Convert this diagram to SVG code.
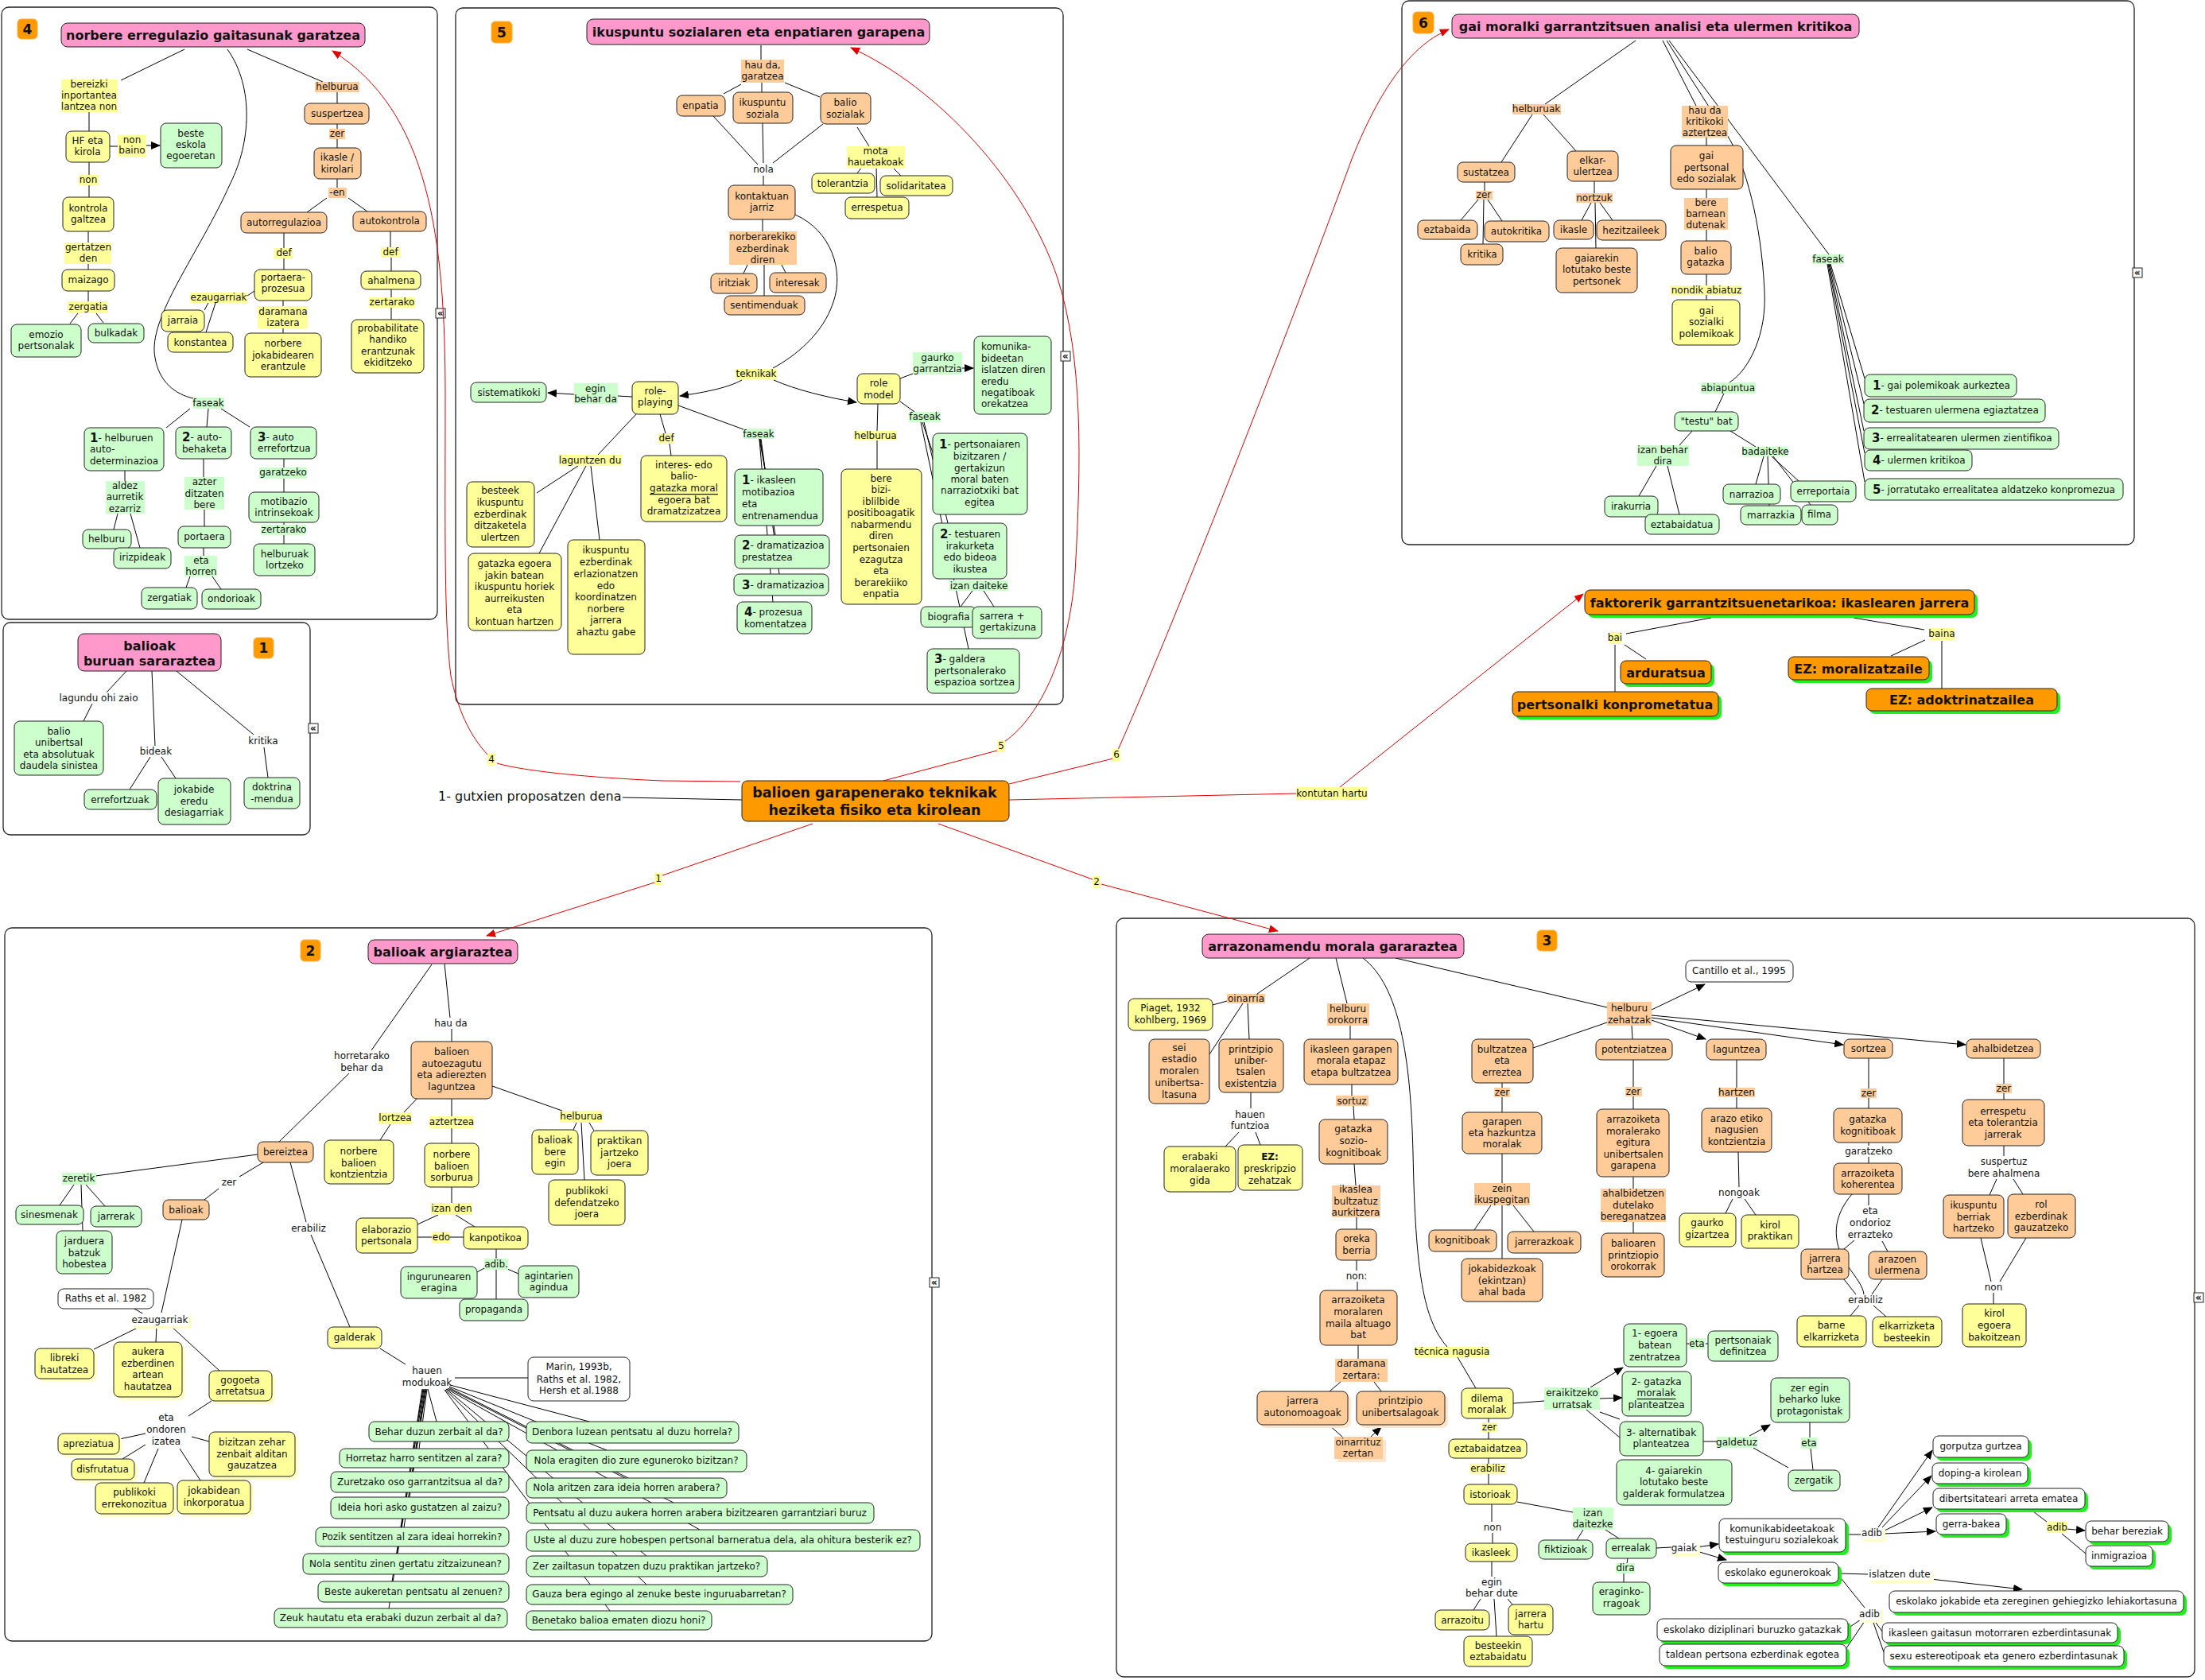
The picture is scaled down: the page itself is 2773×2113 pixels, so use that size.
<svg xmlns="http://www.w3.org/2000/svg" width="2773" height="2113" viewBox="0 0 2773 2113">
<style>
text, tspan { font-family: "DejaVu Sans", Verdana, sans-serif; font-size: 12px; fill: #111; text-anchor: middle; dominant-baseline: central; }
text.l, text.l tspan { text-anchor: start; }
.t, .t tspan { font-size: 16px; font-weight: bold; }
.cb, .cb tspan { font-size: 17.5px; font-weight: bold; }
.fb, .fb tspan { font-size: 16px; font-weight: bold; }
.nb { font-size: 15px; font-weight: bold; }
.bd { font-size: 17px; font-weight: bold; }
rect.n { stroke: #222; stroke-width: 1; }
.y { fill: #ffff99; } .o { fill: #ffcc99; } .g { fill: #ccffcc; } .p { fill: #ff99cc; } .w { fill: #ffffff; } .c { fill: #ff9900; }
.sh { fill: #22ee22; } .shy { fill: #ffffc8; } .sho { fill: #ffe6cc; }
.frame { fill: none; stroke: #222; stroke-width: 1.3; }
.badge { fill: #ff9900; stroke: #f5b040; stroke-width: 1; }
.ic { fill: #fff; stroke: #222; stroke-width: 1; }
.icg { font-size: 12px; font-weight: bold; }
#connectors path { fill: none; stroke: #000; stroke-width: 1; }
#connectors path.r { stroke: #dd0000; }
.big { font-size: 16px; }
</style>
<defs>
<marker id="a" viewBox="0 0 12 10" refX="11" refY="5" markerWidth="12" markerHeight="10" markerUnits="userSpaceOnUse" orient="auto"><path d="M0,0L12,5L0,10z" fill="#000"/></marker>
<marker id="ar" viewBox="0 0 12 10" refX="11" refY="5" markerWidth="12" markerHeight="10" markerUnits="userSpaceOnUse" orient="auto"><path d="M0,0L12,5L0,10z" fill="#e00000"/></marker>
</defs>
<rect x="0" y="0" width="2773" height="2113" fill="#fff"/>

<g id="frames">
<rect class="frame" x="2" y="9" width="548" height="770" rx="9"/>
<rect class="frame" x="573" y="10" width="764" height="876" rx="9"/>
<rect class="frame" x="1763" y="1" width="921" height="684" rx="9"/>
<rect class="frame" x="4" y="783" width="386" height="267" rx="9"/>
<rect class="frame" x="6" y="1167" width="1166" height="897" rx="9"/>
<rect class="frame" x="1404" y="1155" width="1356" height="954" rx="9"/>
<rect class="ic" x="548" y="388" width="12" height="12"/><text class="icg" x="554" y="394">«</text>
<rect class="ic" x="1334" y="442" width="12" height="12"/><text class="icg" x="1340" y="448">«</text>
<rect class="ic" x="2682" y="337" width="12" height="12"/><text class="icg" x="2688" y="343">«</text>
<rect class="ic" x="388" y="910" width="12" height="12"/><text class="icg" x="394" y="916">«</text>
<rect class="ic" x="1169" y="1607" width="12" height="12"/><text class="icg" x="1175" y="1613">«</text>
<rect class="ic" x="2759" y="1626" width="12" height="12"/><text class="icg" x="2765" y="1632">«</text>
<rect class="badge" x="22" y="24" width="25" height="25" rx="5"/><text class="bd" x="34.5" y="36.5">4</text>
<rect class="badge" x="618" y="27" width="26" height="27" rx="5"/><text class="bd" x="631" y="40.5">5</text>
<rect class="badge" x="1777" y="15" width="26" height="27" rx="5"/><text class="bd" x="1790" y="28.5">6</text>
<rect class="badge" x="319" y="802" width="25" height="26" rx="5"/><text class="bd" x="331.5" y="815">1</text>
<rect class="badge" x="378" y="1182" width="25" height="27" rx="5"/><text class="bd" x="390.5" y="1195.5">2</text>
<rect class="badge" x="1933" y="1170" width="25" height="26" rx="5"/><text class="bd" x="1945.5" y="1183">3</text>
</g>

<g id="connectors">
<path class="r" d="M931,983 L833,982 C740,978 660,970 625,960"/>
<path class="r" d="M614,950 C590,925 575,890 567,850 C558,780 560,650 560,500 C560,300 540,140 418,64" marker-end="url(#ar)"/>
<path class="r" d="M1111,982 L1254,944"/>
<path class="r" d="M1263,933 C1310,900 1345,820 1352,720 C1360,580 1362,450 1330,350 C1290,230 1180,110 1070,60" marker-end="url(#ar)"/>
<path class="r" d="M1269,986 L1400,954"/>
<path class="r" d="M1406,943 C1470,800 1620,420 1700,200 C1740,100 1780,55 1822,37" marker-end="url(#ar)"/>
<path class="r" d="M1269,1006 L1631,998"/>
<path class="r" d="M1685,990 L1991,747" marker-end="url(#ar)"/>
<path class="r" d="M1022,1036 L833,1101"/>
<path class="r" d="M823,1110 L612,1177" marker-end="url(#ar)"/>
<path class="r" d="M1180,1036 L1374,1106"/>
<path class="r" d="M1385,1112 L1607,1171" marker-end="url(#ar)"/>
<path d="M783,1003 L933,1006"/>
<path d="M2152,777 L2045,797 M2043,811 L2070,829 M2031,811 L2031,870 M2331,777 L2420,792 M2421,805 L2378,825 M2442,806 L2442,866"/>
<path d="M232,62 L152,101 M112,140 V165 M138,184 H148"/>
<path d="M184,183 L201,183" marker-end="url(#a)"/>
<path d="M112,204 V220 M112,233 V248 M111,291 V305 M111,331 V339 M111,366 V379 M98,394 L88,407 M121,394 L130,406"/>
<path d="M286,62 C320,110 315,180 290,230 C250,320 185,400 195,450 C200,480 220,496 243,501"/>
<path d="M311,62 L406,103 M424,116 V130 M424,156 V162 M424,175 V186 M424,225 V236 M411,249 L386,267 M438,249 L462,266"/>
<path d="M357,293 V312 M357,325 V339 M320,366 L311,372 M262,381 L257,390 M271,381 L259,418 M356,378 V385 M356,413 V419"/>
<path d="M491,291 V311 M492,323 V341 M492,364 V374 M492,387 V402"/>
<path d="M239,514 L209,538 M262,514 L260,537 M278,514 L314,537"/>
<path d="M157,592 V605 M148,646 L143,666 M164,646 L176,689 M256,577 V600 M257,641 V662 M256,689 V699 M239,725 L234,739 M267,725 L278,741"/>
<path d="M357,577 V588 M357,602 V619 M357,657 V660 M357,673 V684"/>
<path d="M957,57 V75 M932,106 L910,118 M958,104 V116 M987,104 L1031,122"/>
<path d="M1078,160 L1093,184 M1084,210 L1078,218 M1102,210 L1103,248 M1122,210 L1133,221"/>
<path d="M897,146 L953,207 M959,155 L960,205 M1035,156 L972,205 M960,221 V233 M959,276 V291"/>
<path d="M940,333 L935,344 M961,333 V372 M983,333 L988,343"/>
<path d="M1000,270 C1045,290 1062,340 1048,380 C1035,420 1000,448 972,463"/>
<path d="M933,478 C917,487 890,493 855,498" marker-end="url(#a)"/>
<path d="M973,478 C1000,490 1040,500 1077,506" marker-end="url(#a)"/>
<path d="M795,499 L777,498"/>
<path d="M722,496 L689,494" marker-end="url(#a)"/>
<path d="M830,521 L837,545 M842,558 L844,573 M800,521 L752,572 M727,586 L675,620 M737,586 L678,696 M743,586 L754,679"/>
<path d="M853,510 L935,540"/>
<path d="M955,552 L962,590 M956,552 L975,673 M957,552 L980,722 M955,552 L972,757"/>
<path d="M1132,476 L1148,470"/>
<path d="M1210,463 L1224,463" marker-end="url(#a)"/>
<path d="M1104,508 L1103,542 M1103,554 V590 M1132,505 L1150,518"/>
<path d="M1160,531 L1175,575 M1162,531 L1192,658 M1158,531 L1218,816 M1223,743 L1208,763 M1237,743 L1250,763"/>
<path d="M2057,51 L1943,131 M1927,144 L1888,204 M1941,144 L1982,190 M1867,229 V240 M1859,251 L1837,277 M1866,251 L1865,307 M1871,251 L1889,278"/>
<path d="M2005,228 V243 M2001,255 L1989,277 M2006,255 L2007,312 M2012,255 L2028,277"/>
<path d="M2091,51 L2133,133 M2146,173 V183 M2146,238 V249 M2146,289 V303 M2146,345 V359 M2146,371 V377"/>
<path d="M2096,51 L2172,170 C2195,205 2215,280 2219,366 C2222,420 2200,465 2175,481"/>
<path d="M2099,51 L2300,320"/>
<path d="M2168,495 L2157,518 M2128,542 L2112,560 M2083,586 L2061,624 M2097,586 L2112,647 M2176,542 L2208,562"/>
<path d="M2218,574 L2208,609 M2223,574 L2225,636 M2228,574 L2262,605 M2230,574 L2277,635"/>
<path d="M2302,332 L2345,476 M2301,332 L2344,508 M2300,332 L2344,542 M2299,332 L2345,570 M2298,332 L2345,606"/>
<path d="M159,844 L134,871 M116,885 L105,907 M191,844 L195,938 M189,952 L163,993 M203,952 L221,979 M222,844 L319,924 M332,940 L337,978"/>
<path d="M559,1212 L566,1280 M568,1294 V1310 M543,1213 L467,1321 M439,1350 L351,1436"/>
<path d="M524,1382 L508,1399 M491,1414 L478,1434 M568,1382 V1404 M568,1419 V1438 M619,1366 L707,1397"/>
<path d="M725,1412 L721,1421 M741,1412 L747,1422 M731,1412 L735,1484"/>
<path d="M568,1493 V1513 M551,1528 L525,1540 M573,1528 L597,1543 M525,1556 H543 M566,1556 H583"/>
<path d="M624,1571 V1583 M609,1595 L600,1600 M638,1596 L652,1602 M624,1597 V1634"/>
<path d="M324,1452 L120,1479 M93,1490 L75,1516 M102,1490 L104,1548 M108,1490 L132,1517"/>
<path d="M331,1462 L301,1480 M275,1495 L257,1509 M365,1462 L385,1537 M391,1553 L440,1669 M229,1534 L203,1651"/>
<path d="M169,1646 L181,1653 M179,1667 L118,1697 M197,1667 L196,1688 M214,1667 L276,1724"/>
<path d="M266,1762 L237,1781 M183,1803 L150,1810 M183,1817 L154,1835 M199,1822 L181,1865 M226,1822 L252,1862 M241,1807 L263,1813"/>
<path d="M478,1696 L510,1716 M572,1733 L664,1733"/>
<path d="M538,1747 L549,1788 M537,1747 L527,1822 M536,1747 L519,1851 M535,1747 L515,1883 M534,1747 L508,1921 M533,1747 L500,1954 M532,1747 L493,1989 M531,1747 L489,2023"/>
<path d="M566,1742 L741,1788 M565,1744 L763,1824 M564,1745 L790,1859 M563,1746 L847,1890 M562,1747 L880,1924 M561,1747 L813,1957 M560,1748 L813,1993 M559,1748 L767,2026"/>
<path d="M1647,1205 L1581,1250 M1543,1259 L1525,1264 M1563,1262 L1521,1326 M1569,1262 L1571,1307 M1573,1374 V1394 M1558,1424 L1541,1442 M1579,1424 L1585,1440"/>
<path d="M1680,1205 L1694,1262 M1698,1290 V1307 M1700,1364 V1378 M1702,1391 L1703,1408 M1703,1464 L1705,1491 M1706,1531 V1546 M1706,1585 V1598 M1707,1612 V1623 M1708,1692 V1709"/>
<path d="M1686,1738 L1672,1750 M1728,1738 L1737,1750 M1671,1792 L1688,1807"/>
<path d="M1724,1807 L1737,1795" marker-end="url(#a)"/>
<path d="M1714,1205 C1760,1240 1774,1330 1777,1450 C1780,1600 1790,1660 1820,1694"/>
<path d="M1833,1707 L1856,1746 M1872,1784 V1789 M1872,1801 V1810 M1872,1834 V1841 M1872,1854 V1867 M1876,1892 V1914 M1877,1928 V1941 M1876,1964 V1983"/>
<path d="M1862,2011 L1853,2025 M1879,2011 L1882,2058 M1896,2011 L1902,2018"/>
<path d="M1908,1889 L1978,1902 M1991,1924 L1983,1937 M2019,1924 L2036,1935 M2047,1960 L2046,1966 M2042,1979 V1990"/>
<path d="M2083,1947 L2102,1946"/>
<path d="M2134,1946 L2161,1942" marker-end="url(#a)"/>
<path d="M2134,1951 L2171,1962" marker-end="url(#a)"/>
<path d="M2321,1930 L2340,1930"/>
<path d="M2362,1921 L2430,1824" marker-end="url(#a)"/>
<path d="M2366,1922 L2429,1856" marker-end="url(#a)"/>
<path d="M2370,1925 L2430,1896" marker-end="url(#a)"/>
<path d="M2370,1929 L2434,1926" marker-end="url(#a)"/>
<path d="M2553,1898 L2574,1914"/>
<path d="M2598,1923 L2622,1925" marker-end="url(#a)"/>
<path d="M2593,1929 L2623,1954"/>
<path d="M2312,1979 L2349,1980"/>
<path d="M2428,1986 L2543,1999" marker-end="url(#a)"/>
<path d="M2316,1986 L2345,2022 M2340,2037 L2324,2048 M2345,2039 L2322,2073 M2357,2038 L2367,2052 M2355,2038 L2369,2078"/>
<path d="M1755,1205 L2021,1267"/>
<path d="M2077,1270 L2144,1238" marker-end="url(#a)"/>
<path d="M2077,1283 L2145,1307" marker-end="url(#a)"/>
<path d="M2077,1280 L2318,1314" marker-end="url(#a)"/>
<path d="M2077,1277 L2472,1314" marker-end="url(#a)"/>
<path d="M2021,1286 L1928,1318 M2052,1290 L2053,1307"/>
<path d="M1889,1362 V1368 M1889,1380 V1399 M1889,1451 V1488 M1875,1516 L1854,1547 M1889,1516 V1583 M1903,1516 L1929,1549"/>
<path d="M2054,1333 V1367 M2054,1379 V1395 M2054,1480 V1495 M2054,1537 V1551"/>
<path d="M2184,1333 V1368 M2184,1380 V1394 M2186,1449 L2187,1493 M2179,1508 L2170,1526 M2194,1508 L2208,1528"/>
<path d="M2350,1331 V1369 M2350,1381 V1394 M2350,1437 V1441 M2350,1455 V1463 M2350,1502 V1516 M2332,1560 L2319,1571 M2367,1561 L2374,1574"/>
<path d="M2329,1502 C2305,1530 2303,1560 2322,1590 C2335,1608 2343,1618 2344,1628"/>
<path d="M2319,1609 L2334,1628 M2367,1609 L2354,1628 M2338,1642 L2327,1655 M2356,1642 L2372,1656"/>
<path d="M2520,1331 V1363 M2520,1375 V1383 M2520,1441 V1454 M2511,1483 L2502,1503 M2532,1483 L2544,1502 M2491,1557 L2504,1612 M2548,1557 L2515,1612 M2507,1626 V1640"/>
<path d="M1903,1765 L1942,1762"/>
<path d="M2000,1745 L2041,1720" marker-end="url(#a)"/>
<path d="M2012,1759 L2040,1758" marker-end="url(#a)"/>
<path d="M2012,1776 L2037,1785 M1995,1773 L2037,1808 M2121,1690 H2124 M2145,1690 H2148 M2142,1813 H2159"/>
<path d="M2200,1806 L2226,1792" marker-end="url(#a)"/>
<path d="M2205,1821 L2249,1846 M2276,1789 V1808 M2277,1822 L2280,1849"/>
</g>

<g id="center">
<rect class="n c" x="933" y="982" width="336" height="51" rx="7"/>
<text class="cb" x="1100"><tspan x="1100" y="997">balioen garapenerako teknikak</tspan><tspan x="1100" y="1019">heziketa fisiko eta kirolean</tspan></text>
</g>
<g id="l-gutxien"><text class="l big" x="551" y="1001">1- gutxien proposatzen dena</text></g>
<g id="l-r1"><rect class="y" x="823" y="1098" width="10" height="15"/><text x="828" y="1105">1</text></g>
<g id="l-r2"><rect class="y" x="1374" y="1102" width="10" height="15"/><text x="1379" y="1109">2</text></g>
<g id="l-r4"><rect class="y" x="613" y="948" width="10" height="15"/><text x="618" y="955">4</text></g>
<g id="l-r5"><rect class="y" x="1254" y="931" width="10" height="15"/><text x="1259" y="938">5</text></g>
<g id="l-r6"><rect class="y" x="1399" y="942" width="10" height="15"/><text x="1404" y="949">6</text></g>
<g id="l-kontutan"><rect class="y" x="1630" y="990" width="90" height="16"/><text x="1675" y="998">kontutan hartu</text></g>

<g id="n-faktorerik"><rect class="sh" x="1997" y="746" width="490" height="31" rx="7"/><rect class="n c" x="1993" y="742" width="490" height="31" rx="7"/><text class="fb" x="2238" y="758">faktorerik garrantzitsuenetarikoa: ikaslearen jarrera</text></g>
<g id="l-bai"><rect class="y" x="2024" y="795" width="15" height="15"/><text x="2031" y="802">bai</text></g>
<g id="l-baina"><rect class="y" x="2427" y="790" width="31" height="15"/><text x="2442" y="797">baina</text></g>
<g id="n-arduratsua"><rect class="sh" x="2042" y="835" width="114" height="29" rx="7"/><rect class="n c" x="2038" y="831" width="114" height="29" rx="7"/><text class="fb" x="2095" y="846">arduratsua</text></g>
<g id="n-pertsonalki"><rect class="sh" x="1906" y="874" width="259" height="31" rx="7"/><rect class="n c" x="1902" y="870" width="259" height="31" rx="7"/><text class="fb" x="2031" y="886">pertsonalki konprometatua</text></g>
<g id="n-moralizatzaile"><rect class="sh" x="2253" y="830" width="177" height="29" rx="7"/><rect class="n c" x="2249" y="826" width="177" height="29" rx="7"/><text class="fb" x="2337" y="841">EZ: moralizatzaile</text></g>
<g id="n-adoktrinatzailea"><rect class="sh" x="2351" y="870" width="240" height="28" rx="7"/><rect class="n c" x="2347" y="866" width="240" height="28" rx="7"/><text class="fb" x="2467" y="880">EZ: adoktrinatzailea</text></g>

<g id="n4-title"><rect class="n p" x="77" y="29" width="382" height="30" rx="8"/><text class="t" x="268" y="44">norbere erregulazio gaitasunak garatzea</text></g>
<g id="l4-bereizki"><rect class="y" x="77" y="100" width="71" height="41"/><text><tspan x="112" y="106">bereizki</tspan><tspan x="112" y="120">inportantea</tspan><tspan x="112" y="134">lantzea non</tspan></text></g>
<g id="n4-hf"><rect class="n y" x="83" y="165" width="55" height="39" rx="7"/><text><tspan x="110" y="177">HF eta</tspan><tspan x="110" y="191">kirola</tspan></text></g>
<g id="l4-nonbaino"><rect class="y" x="148" y="170" width="36" height="27"/><text><tspan x="166" y="176">non</tspan><tspan x="166" y="189">baino</tspan></text></g>
<g id="n4-beste"><rect class="n g" x="202" y="155" width="77" height="56" rx="7"/><text><tspan x="240" y="168">beste</tspan><tspan x="240" y="182">eskola</tspan><tspan x="240" y="196">egoeretan</tspan></text></g>
<g id="l4-non"><rect class="y" x="99" y="220" width="25" height="13"/><text x="111" y="226">non</text></g>
<g id="n4-kontrola"><rect class="n y" x="79" y="248" width="64" height="43" rx="7"/><text><tspan x="111" y="262">kontrola</tspan><tspan x="111" y="276">galtzea</tspan></text></g>
<g id="l4-gertatzen"><rect class="y" x="81" y="305" width="59" height="27"/><text><tspan x="111" y="311">gertatzen</tspan><tspan x="111" y="325">den</tspan></text></g>
<g id="n4-maizago"><rect class="n y" x="78" y="339" width="66" height="27" rx="7"/><text x="111" y="352">maizago</text></g>
<g id="l4-zergatia"><rect class="y" x="85" y="379" width="51" height="15"/><text x="111" y="386">zergatia</text></g>
<g id="n4-emozio"><rect class="n g" x="14" y="408" width="88" height="41" rx="7"/><text><tspan x="58" y="421">emozio</tspan><tspan x="58" y="435">pertsonalak</tspan></text></g>
<g id="n4-bulkadak"><rect class="n g" x="111" y="407" width="70" height="24" rx="7"/><text x="146" y="419">bulkadak</text></g>
<g id="l4-faseak"><rect class="g" x="243" y="500" width="39" height="14"/><text x="262" y="507">faseak</text></g>
<g id="l4-helburua"><rect class="o" x="396" y="103" width="56" height="13"/><text x="424" y="109">helburua</text></g>
<g id="n4-suspertzea"><rect class="n o" x="383" y="130" width="81" height="26" rx="7"/><text x="424" y="143">suspertzea</text></g>
<g id="l4-zer"><rect class="o" x="414" y="162" width="20" height="13"/><text x="424" y="168">zer</text></g>
<g id="n4-ikasle"><rect class="n o" x="395" y="186" width="59" height="39" rx="7"/><text><tspan x="424" y="198">ikasle /</tspan><tspan x="424" y="213">kirolari</tspan></text></g>
<g id="l4-en"><rect class="o" x="413" y="236" width="23" height="13"/><text x="424" y="242">-en</text></g>
<g id="n4-autorreg"><rect class="n o" x="303" y="267" width="108" height="26" rx="7"/><text x="357" y="280">autorregulazioa</text></g>
<g id="n4-autokontrola"><rect class="n o" x="444" y="266" width="92" height="25" rx="7"/><text x="490" y="278">autokontrola</text></g>
<g id="l4-def1"><rect class="y" x="345" y="312" width="23" height="13"/><text x="357" y="318">def</text></g>
<g id="n4-portaera"><rect class="n y" x="320" y="339" width="72" height="39" rx="7"/><text><tspan x="356" y="349">portaera-</tspan><tspan x="356" y="363">prozesua</tspan></text></g>
<g id="l4-ezaug"><rect class="y" x="239" y="368" width="72" height="13"/><text x="275" y="374">ezaugarriak</text></g>
<g id="n4-jarraia"><rect class="n y" x="203" y="390" width="54" height="27" rx="7"/><text x="230" y="403">jarraia</text></g>
<g id="n4-konstantea"><rect class="n y" x="211" y="418" width="82" height="25" rx="7"/><text x="252" y="431">konstantea</text></g>
<g id="l4-daramana"><rect class="y" x="324" y="385" width="63" height="28"/><text><tspan x="356" y="392">daramana</tspan><tspan x="356" y="406">izatera</tspan></text></g>
<g id="n4-norbere"><rect class="n y" x="308" y="419" width="96" height="55" rx="7"/><text><tspan x="356" y="432">norbere</tspan><tspan x="356" y="447">jokabidearen</tspan><tspan x="356" y="461">erantzule</tspan></text></g>
<g id="l4-def2"><rect class="y" x="479" y="311" width="25" height="13"/><text x="491" y="317">def</text></g>
<g id="n4-ahalmena"><rect class="n y" x="454" y="341" width="75" height="23" rx="7"/><text x="492" y="353">ahalmena</text></g>
<g id="l4-zertarako"><rect class="y" x="464" y="374" width="58" height="13"/><text x="493" y="380">zertarako</text></g>
<g id="n4-probab"><rect class="n y" x="442" y="402" width="91" height="67" rx="7"/><text><tspan x="488" y="413">probabilitate</tspan><tspan x="488" y="427">handiko</tspan><tspan x="488" y="442">erantzunak</tspan><tspan x="488" y="456">ekiditzeko</tspan></text></g>
<g id="n4-f1"><rect class="n g" x="106" y="538" width="100" height="54" rx="7"/><text class="l"><tspan x="113" y="551"><tspan class="nb">1</tspan>- helburuen</tspan><tspan x="113" y="565">auto-</tspan><tspan x="113" y="580">determinazioa</tspan></text></g>
<g id="n4-f2"><rect class="n g" x="221" y="537" width="70" height="40" rx="7"/><text class="l"><tspan x="229" y="550"><tspan class="nb">2</tspan>- auto-</tspan><tspan x="229" y="565">behaketa</tspan></text></g>
<g id="n4-f3"><rect class="n g" x="315" y="537" width="83" height="40" rx="7"/><text class="l"><tspan x="324" y="550"><tspan class="nb">3</tspan>- auto</tspan><tspan x="324" y="564">errefortzua</tspan></text></g>
<g id="l4-aldez"><rect class="g" x="133" y="605" width="49" height="41"/><text><tspan x="157" y="611">aldez</tspan><tspan x="157" y="625">aurretik</tspan><tspan x="157" y="640">ezarriz</tspan></text></g>
<g id="n4-helburu"><rect class="n g" x="104" y="666" width="61" height="24" rx="7"/><text x="134" y="678">helburu</text></g>
<g id="n4-irizpideak"><rect class="n g" x="143" y="689" width="72" height="26" rx="7"/><text x="179" y="701">irizpideak</text></g>
<g id="l4-azter"><rect class="g" x="232" y="600" width="50" height="41"/><text><tspan x="257" y="606">azter</tspan><tspan x="257" y="621">ditzaten</tspan><tspan x="257" y="635">bere</tspan></text></g>
<g id="n4-portaera2"><rect class="n g" x="224" y="662" width="66" height="27" rx="7"/><text x="257" y="675">portaera</text></g>
<g id="l4-etahorren"><rect class="g" x="232" y="699" width="41" height="26"/><text><tspan x="253" y="705">eta</tspan><tspan x="253" y="719">horren</tspan></text></g>
<g id="n4-zergatiak"><rect class="n g" x="178" y="739" width="70" height="27" rx="7"/><text x="213" y="752">zergatiak</text></g>
<g id="n4-ondorioak"><rect class="n g" x="254" y="741" width="74" height="25" rx="7"/><text x="291" y="753">ondorioak</text></g>
<g id="l4-garatzeko"><rect class="g" x="326" y="588" width="60" height="14"/><text x="356" y="594">garatzeko</text></g>
<g id="n4-motibazio"><rect class="n g" x="313" y="619" width="88" height="38" rx="7"/><text><tspan x="357" y="631">motibazio</tspan><tspan x="357" y="645">intrinsekoak</tspan></text></g>
<g id="l4-zertarako2"><rect class="g" x="328" y="660" width="57" height="13"/><text x="357" y="666">zertarako</text></g>
<g id="n4-helburuak"><rect class="n g" x="319" y="684" width="77" height="40" rx="7"/><text><tspan x="358" y="697">helburuak</tspan><tspan x="358" y="711">lortzeko</tspan></text></g>

<g id="n5-title"><rect class="n p" x="738" y="24" width="431" height="32" rx="8"/><text class="t" x="954" y="40">ikuspuntu sozialaren eta enpatiaren garapena</text></g>
<g id="l5-hauda"><rect class="o" x="932" y="75" width="54" height="29"/><text><tspan x="959" y="82">hau da,</tspan><tspan x="959" y="96">garatzea</tspan></text></g>
<g id="n5-enpatia"><rect class="n o" x="851" y="120" width="61" height="26" rx="7"/><text x="881" y="133">enpatia</text></g>
<g id="n5-ikuspuntu"><rect class="n o" x="922" y="116" width="75" height="39" rx="7"/><text><tspan x="959" y="129">ikuspuntu</tspan><tspan x="959" y="144">soziala</tspan></text></g>
<g id="n5-balio"><rect class="n o" x="1032" y="117" width="63" height="39" rx="7"/><text><tspan x="1063" y="129">balio</tspan><tspan x="1063" y="144">sozialak</tspan></text></g>
<g id="l5-mota"><rect class="y" x="1065" y="184" width="73" height="28"/><text><tspan x="1101" y="190">mota</tspan><tspan x="1101" y="204">hauetakoak</tspan></text></g>
<g id="n5-tolerantzia"><rect class="n y" x="1021" y="218" width="79" height="25" rx="7"/><text x="1060" y="231">tolerantzia</text></g>
<g id="n5-solidaritatea"><rect class="n y" x="1107" y="221" width="91" height="25" rx="7"/><text x="1152" y="234">solidaritatea</text></g>
<g id="n5-errespetua"><rect class="n y" x="1063" y="248" width="80" height="27" rx="7"/><text x="1103" y="261">errespetua</text></g>
<g id="l5-nola"><text x="960" y="213">nola</text></g>
<g id="n5-kontaktuan"><rect class="n o" x="916" y="233" width="84" height="43" rx="7"/><text><tspan x="958" y="247">kontaktuan</tspan><tspan x="958" y="261">jarriz</tspan></text></g>
<g id="l5-norberarekiko"><rect class="o" x="917" y="291" width="85" height="42"/><text><tspan x="959" y="298">norberarekiko</tspan><tspan x="959" y="313">ezberdinak</tspan><tspan x="959" y="327">diren</tspan></text></g>
<g id="n5-iritziak"><rect class="n o" x="894" y="344" width="58" height="25" rx="7"/><text x="923" y="356">iritziak</text></g>
<g id="n5-interesak"><rect class="n o" x="968" y="343" width="71" height="25" rx="7"/><text x="1003" y="356">interesak</text></g>
<g id="n5-sentimenduak"><rect class="n o" x="911" y="372" width="101" height="24" rx="7"/><text x="961" y="384">sentimenduak</text></g>
<g id="l5-teknikak"><rect class="y" x="925" y="464" width="52" height="13"/><text x="951" y="470">teknikak</text></g>
<g id="n5-roleplaying"><rect class="n y" x="795" y="480" width="58" height="41" rx="7"/><text><tspan x="824" y="492">role-</tspan><tspan x="824" y="506">playing</tspan></text></g>
<g id="l5-egin"><rect class="g" x="722" y="482" width="55" height="26"/><text><tspan x="749" y="489">egin</tspan><tspan x="749" y="502">behar da</tspan></text></g>
<g id="n5-sistematikoki"><rect class="n g" x="592" y="481" width="95" height="25" rx="7"/><text x="640" y="494">sistematikoki</text></g>
<g id="l5-def"><rect class="y" x="828" y="545" width="20" height="13"/><text x="838" y="551">def</text></g>
<g id="n5-interes"><rect class="n y" x="806" y="573" width="108" height="83" rx="7"/><text><tspan x="860" y="585">interes- edo</tspan><tspan x="860" y="599">balio-</tspan><tspan x="860" y="614" text-decoration="underline">gatazka moral</tspan><tspan x="860" y="629">egoera bat</tspan><tspan x="860" y="643">dramatzizatzea</tspan></text></g>
<g id="l5-laguntzen"><rect class="y" x="703" y="572" width="79" height="14"/><text x="742" y="579">laguntzen du</text></g>
<g id="n5-besteek"><rect class="n y" x="587" y="606" width="85" height="82" rx="7"/><text><tspan x="629" y="617">besteek</tspan><tspan x="629" y="632">ikuspuntu</tspan><tspan x="629" y="647">ezberdinak</tspan><tspan x="629" y="661">ditzaketela</tspan><tspan x="629" y="676">ulertzen</tspan></text></g>
<g id="n5-gatazka"><rect class="n y" x="589" y="696" width="117" height="97" rx="7"/><text><tspan x="647" y="709">gatazka egoera</tspan><tspan x="647" y="724">jakin batean</tspan><tspan x="647" y="738">ikuspuntu horiek</tspan><tspan x="647" y="753">aurreikusten</tspan><tspan x="647" y="767">eta</tspan><tspan x="647" y="782">kontuan hartzen</tspan></text></g>
<g id="n5-ikuspuntu2"><rect class="n y" x="714" y="679" width="97" height="144" rx="7"/><text><tspan x="762" y="692">ikuspuntu</tspan><tspan x="762" y="707">ezberdinak</tspan><tspan x="762" y="722">erlazionatzen</tspan><tspan x="762" y="737">edo</tspan><tspan x="762" y="751">koordinatzen</tspan><tspan x="762" y="766">norbere</tspan><tspan x="762" y="780">jarrera</tspan><tspan x="762" y="795">ahaztu gabe</tspan></text></g>
<g id="l5-faseak1"><rect class="g" x="935" y="539" width="38" height="13"/><text x="954" y="546">faseak</text></g>
<g id="n5-f1"><rect class="n g" x="924" y="590" width="111" height="71" rx="7"/><text class="l"><tspan x="933" y="604"><tspan class="nb">1</tspan>- ikasleen</tspan><tspan x="933" y="619">motibazioa</tspan><tspan x="933" y="634">eta</tspan><tspan x="933" y="649">entrenamendua</tspan></text></g>
<g id="n5-f2"><rect class="n g" x="924" y="673" width="119" height="42" rx="7"/><text class="l"><tspan x="933" y="686"><tspan class="nb">2</tspan>- dramatizazioa</tspan><tspan x="933" y="701">prestatzea</tspan></text></g>
<g id="n5-f3"><rect class="n g" x="923" y="722" width="119" height="27" rx="7"/><text class="l"><tspan x="933" y="736"><tspan class="nb">3</tspan>- dramatizazioa</tspan></text></g>
<g id="n5-f4"><rect class="n g" x="927" y="757" width="94" height="40" rx="7"/><text class="l"><tspan x="936" y="770"><tspan class="nb">4</tspan>- prozesua</tspan><tspan x="936" y="785">komentatzea</tspan></text></g>
<g id="n5-rolemodel"><rect class="n y" x="1078" y="470" width="54" height="38" rx="7"/><text><tspan x="1105" y="482">role</tspan><tspan x="1105" y="497">model</tspan></text></g>
<g id="l5-gaurko"><rect class="g" x="1148" y="443" width="62" height="28"/><text><tspan x="1179" y="450">gaurko</tspan><tspan x="1179" y="464">garrantzia</tspan></text></g>
<g id="n5-komunika"><rect class="n g" x="1225" y="423" width="97" height="98" rx="7"/><text class="l"><tspan x="1234" y="436">komunika-</tspan><tspan x="1234" y="451">bideetan</tspan><tspan x="1234" y="465">islatzen diren</tspan><tspan x="1234" y="480">eredu</tspan><tspan x="1234" y="494">negatiboak</tspan><tspan x="1234" y="508">orekatzea</tspan></text></g>
<g id="l5-helburua"><rect class="y" x="1074" y="542" width="54" height="12"/><text x="1101" y="548">helburua</text></g>
<g id="n5-bere"><rect class="n y" x="1058" y="590" width="101" height="170" rx="7"/><text><tspan x="1108" y="602">bere</tspan><tspan x="1108" y="616">bizi-</tspan><tspan x="1108" y="631">iblilbide</tspan><tspan x="1108" y="645">positiboagatik</tspan><tspan x="1108" y="660">nabarmendu</tspan><tspan x="1108" y="674">diren</tspan><tspan x="1108" y="689">pertsonaien</tspan><tspan x="1108" y="704">ezagutza</tspan><tspan x="1108" y="718">eta</tspan><tspan x="1108" y="733">berarekiiko</tspan><tspan x="1108" y="747">enpatia</tspan></text></g>
<g id="l5-faseak2"><rect class="g" x="1143" y="518" width="40" height="13"/><text x="1163" y="524">faseak</text></g>
<g id="n5-rm1"><rect class="n g" x="1173" y="545" width="119" height="102" rx="7"/><text><tspan x="1232" y="559"><tspan class="nb">1</tspan>- pertsonaiaren</tspan><tspan x="1232" y="574">bizitzaren /</tspan><tspan x="1232" y="589">gertakizun</tspan><tspan x="1232" y="603">moral baten</tspan><tspan x="1232" y="617">narraziotxiki bat</tspan><tspan x="1232" y="632">egitea</tspan></text></g>
<g id="n5-rm2"><rect class="n g" x="1173" y="658" width="93" height="70" rx="7"/><text><tspan x="1220" y="672"><tspan class="nb">2</tspan>- testuaren</tspan><tspan x="1220" y="687">irakurketa</tspan><tspan x="1220" y="701">edo bideoa</tspan><tspan x="1220" y="716">ikustea</tspan></text></g>
<g id="l5-izandaiteke"><rect class="g" x="1194" y="730" width="74" height="13"/><text x="1231" y="737">izan daiteke</text></g>
<g id="n5-biografia"><rect class="n g" x="1158" y="763" width="70" height="26" rx="7"/><text x="1193" y="776">biografia</text></g>
<g id="n5-sarrera"><rect class="n g" x="1223" y="763" width="87" height="40" rx="7"/><text class="l"><tspan x="1232" y="775">sarrera +</tspan><tspan x="1232" y="789">gertakizuna</tspan></text></g>
<g id="n5-rm3"><rect class="n g" x="1166" y="816" width="116" height="56" rx="7"/><text class="l"><tspan x="1175" y="829"><tspan class="nb">3</tspan>- galdera</tspan><tspan x="1175" y="844">pertsonalerako</tspan><tspan x="1175" y="858">espazioa sortzea</tspan></text></g>

<g id="n6-title"><rect class="n p" x="1826" y="18" width="512" height="30" rx="8"/><text class="t" x="2082" y="33">gai moralki garrantzitsuen analisi eta ulermen  kritikoa</text></g>
<g id="l6-helburuak"><rect class="o" x="1902" y="131" width="61" height="13"/><text x="1932" y="137">helburuak</text></g>
<g id="n6-sustatzea"><rect class="n o" x="1833" y="204" width="72" height="25" rx="7"/><text x="1869" y="217">sustatzea</text></g>
<g id="n6-elkar"><rect class="n o" x="1971" y="190" width="64" height="38" rx="7"/><text><tspan x="2003" y="202">elkar-</tspan><tspan x="2003" y="216">ulertzea</tspan></text></g>
<g id="l6-zer"><rect class="o" x="1856" y="240" width="21" height="11"/><text x="1866" y="245">zer</text></g>
<g id="n6-eztabaida"><rect class="n o" x="1783" y="277" width="75" height="24" rx="7"/><text x="1820" y="289">eztabaida</text></g>
<g id="n6-autokritika"><rect class="n o" x="1867" y="278" width="81" height="26" rx="7"/><text x="1907" y="291">autokritika</text></g>
<g id="n6-kritika"><rect class="n o" x="1837" y="307" width="53" height="26" rx="7"/><text x="1864" y="320">kritika</text></g>
<g id="l6-nortzuk"><rect class="o" x="1982" y="243" width="46" height="12"/><text x="2005" y="249">nortzuk</text></g>
<g id="n6-ikasle"><rect class="n o" x="1954" y="277" width="50" height="24" rx="7"/><text x="1979" y="289">ikasle</text></g>
<g id="n6-hezitzaileek"><rect class="n o" x="2008" y="277" width="87" height="25" rx="7"/><text x="2051" y="290">hezitzaileek</text></g>
<g id="n6-gaiarekin"><rect class="n o" x="1957" y="312" width="102" height="56" rx="7"/><text><tspan x="2008" y="325">gaiarekin</tspan><tspan x="2008" y="339">lotutako beste</tspan><tspan x="2008" y="354">pertsonek</tspan></text></g>
<g id="l6-haudakrit"><rect class="o" x="2115" y="133" width="58" height="40"/><text><tspan x="2144" y="139">hau da</tspan><tspan x="2144" y="153">kritikoki</tspan><tspan x="2144" y="167">aztertzea</tspan></text></g>
<g id="n6-gaipers"><rect class="n o" x="2101" y="183" width="91" height="55" rx="7"/><text><tspan x="2146" y="196">gai</tspan><tspan x="2146" y="211">pertsonal</tspan><tspan x="2146" y="225">edo sozialak</tspan></text></g>
<g id="l6-bere"><rect class="o" x="2118" y="249" width="55" height="40"/><text><tspan x="2145" y="255">bere</tspan><tspan x="2145" y="269">barnean</tspan><tspan x="2145" y="283">dutenak</tspan></text></g>
<g id="n6-baliogat"><rect class="n o" x="2114" y="303" width="63" height="42" rx="7"/><text><tspan x="2145" y="316">balio</tspan><tspan x="2145" y="330">gatazka</tspan></text></g>
<g id="l6-nondik"><rect class="y" x="2101" y="359" width="90" height="12"/><text x="2146" y="365">nondik abiatuz</text></g>
<g id="n6-gaisoz"><rect class="n y" x="2103" y="377" width="85" height="57" rx="7"/><text><tspan x="2146" y="391">gai</tspan><tspan x="2146" y="405">sozialki</tspan><tspan x="2146" y="420">polemikoak</tspan></text></g>
<g id="l6-faseak"><rect class="g" x="2279" y="320" width="40" height="12"/><text x="2299" y="326">faseak</text></g>
<g id="l6-abiapuntua"><rect class="g" x="2139" y="481" width="69" height="14"/><text x="2173" y="488">abiapuntua</text></g>
<g id="n6-testu"><rect class="n g" x="2106" y="518" width="80" height="24" rx="7"/><text x="2146" y="530">"testu" bat</text></g>
<g id="l6-izanbehar"><rect class="g" x="2059" y="560" width="65" height="26"/><text><tspan x="2091" y="566">izan behar</tspan><tspan x="2091" y="580">dira</tspan></text></g>
<g id="n6-irakurria"><rect class="n g" x="2018" y="624" width="67" height="26" rx="7"/><text x="2051" y="637">irakurria</text></g>
<g id="n6-eztabaidatua"><rect class="n g" x="2069" y="647" width="93" height="25" rx="7"/><text x="2115" y="660">eztabaidatua</text></g>
<g id="l6-badaiteke"><rect class="g" x="2192" y="562" width="56" height="12"/><text x="2220" y="568">badaiteke</text></g>
<g id="n6-narrazioa"><rect class="n g" x="2167" y="609" width="72" height="25" rx="7"/><text x="2203" y="622">narrazioa</text></g>
<g id="n6-marrazkia"><rect class="n g" x="2189" y="636" width="76" height="24" rx="7"/><text x="2227" y="648">marrazkia</text></g>
<g id="n6-erreportaia"><rect class="n g" x="2252" y="605" width="82" height="26" rx="7"/><text x="2293" y="618">erreportaia</text></g>
<g id="n6-filma"><rect class="n g" x="2266" y="635" width="45" height="25" rx="7"/><text x="2288" y="647">filma</text></g>
<g id="n6-f1"><rect class="n g" x="2345" y="471" width="191" height="28" rx="7"/><text class="l" x="2355" y="485"><tspan class="nb">1</tspan>- gai polemikoak aurkeztea</text></g>
<g id="n6-f2"><rect class="n g" x="2344" y="502" width="228" height="29" rx="7"/><text class="l" x="2353" y="516"><tspan class="nb">2</tspan>- testuaren ulermena egiaztatzea</text></g>
<g id="n6-f3"><rect class="n g" x="2344" y="538" width="245" height="27" rx="7"/><text class="l" x="2354" y="551"><tspan class="nb">3</tspan>- errealitatearen ulermen zientifikoa</text></g>
<g id="n6-f4"><rect class="n g" x="2345" y="566" width="135" height="26" rx="7"/><text class="l" x="2355" y="579"><tspan class="nb">4</tspan>- ulermen kritikoa</text></g>
<g id="n6-f5"><rect class="n g" x="2345" y="602" width="325" height="27" rx="7"/><text class="l" x="2355" y="616"><tspan class="nb">5</tspan>- jorratutako errealitatea aldatzeko konpromezua</text></g>

<g id="n1-title"><rect class="n p" x="98" y="797" width="180" height="47" rx="8"/><text class="t"><tspan x="188" y="812">balioak</tspan><tspan x="188" y="831">buruan sararaztea</tspan></text></g>
<g id="l1-lagundu"><rect class="w" x="75" y="871" width="99" height="14"/><text x="124" y="878">lagundu ohi zaio</text></g>
<g id="n1-balio"><rect class="n g" x="18" y="907" width="112" height="68" rx="7"/><text><tspan x="74" y="920">balio</tspan><tspan x="74" y="934">unibertsal</tspan><tspan x="74" y="949">eta absolutuak</tspan><tspan x="74" y="963">daudela sinistea</tspan></text></g>
<g id="l1-bideak"><rect class="w" x="176" y="938" width="40" height="14"/><text x="196" y="945">bideak</text></g>
<g id="n1-errefortzuak"><rect class="n g" x="106" y="993" width="91" height="25" rx="7"/><text x="151" y="1006">errefortzuak</text></g>
<g id="n1-jokabide"><rect class="n g" x="199" y="979" width="91" height="58" rx="7"/><text><tspan x="244" y="993">jokabide</tspan><tspan x="244" y="1008">eredu</tspan><tspan x="244" y="1022">desiagarriak</tspan></text></g>
<g id="l1-kritika"><rect class="w" x="311" y="925" width="40" height="14"/><text x="331" y="932">kritika</text></g>
<g id="n1-doktrina"><rect class="n g" x="307" y="978" width="70" height="39" rx="7"/><text><tspan x="342" y="990">doktrina</tspan><tspan x="342" y="1005">-mendua</tspan></text></g>

<g id="n2-title"><rect class="n p" x="463" y="1182" width="188" height="30" rx="8"/><text class="t" x="557" y="1197">balioak argiaraztea</text></g>
<g id="l2-hauda"><rect class="w" x="547" y="1280" width="41" height="14"/><text x="567" y="1287">hau da</text></g>
<g id="n2-balioen"><rect class="n o" x="517" y="1310" width="102" height="72" rx="7"/><text><tspan x="568" y="1323">balioen</tspan><tspan x="568" y="1338">autoezagutu</tspan><tspan x="568" y="1352">eta adierezten</tspan><tspan x="568" y="1367">laguntzea</tspan></text></g>
<g id="l2-horretarako"><rect class="w" x="420" y="1321" width="70" height="29"/><text><tspan x="455" y="1328">horretarako</tspan><tspan x="455" y="1343">behar da</tspan></text></g>
<g id="l2-lortzea"><rect class="y" x="476" y="1399" width="42" height="15"/><text x="497" y="1406">lortzea</text></g>
<g id="n2-kontzientzia"><rect class="n y" x="408" y="1434" width="87" height="55" rx="7"/><text><tspan x="451" y="1448">norbere</tspan><tspan x="451" y="1463">balioen</tspan><tspan x="451" y="1477">kontzientzia</tspan></text></g>
<g id="l2-aztertzea"><rect class="y" x="540" y="1404" width="56" height="15"/><text x="568" y="1411">aztertzea</text></g>
<g id="n2-sorburua"><rect class="n y" x="534" y="1438" width="68" height="55" rx="7"/><text><tspan x="568" y="1452">norbere</tspan><tspan x="568" y="1467">balioen</tspan><tspan x="568" y="1481">sorburua</tspan></text></g>
<g id="l2-helburua"><rect class="y" x="704" y="1397" width="54" height="15"/><text x="731" y="1404">helburua</text></g>
<g id="n2-baliobere"><rect class="n y" x="669" y="1421" width="58" height="56" rx="7"/><text><tspan x="698" y="1434">balioak</tspan><tspan x="698" y="1449">bere</tspan><tspan x="698" y="1463">egin</tspan></text></g>
<g id="n2-praktikan"><rect class="n y" x="743" y="1422" width="72" height="56" rx="7"/><text><tspan x="779" y="1435">praktikan</tspan><tspan x="779" y="1450">jartzeko</tspan><tspan x="779" y="1464">joera</tspan></text></g>
<g id="n2-publikoki"><rect class="n y" x="690" y="1484" width="96" height="57" rx="7"/><text><tspan x="738" y="1498">publikoki</tspan><tspan x="738" y="1513">defendatzeko</tspan><tspan x="738" y="1527">joera</tspan></text></g>
<g id="l2-izanden"><rect class="y" x="542" y="1513" width="52" height="15"/><text x="568" y="1520">izan den</text></g>
<g id="n2-elaborazio"><rect class="n y" x="448" y="1532" width="77" height="44" rx="7"/><text><tspan x="486" y="1547">elaborazio</tspan><tspan x="486" y="1561">pertsonala</tspan></text></g>
<g id="l2-edo"><rect class="y" x="543" y="1549" width="23" height="15"/><text x="555" y="1556">edo</text></g>
<g id="n2-kanpotikoa"><rect class="n y" x="583" y="1543" width="81" height="28" rx="7"/><text x="623" y="1557">kanpotikoa</text></g>
<g id="l2-adib"><rect class="g" x="609" y="1583" width="30" height="14"/><text x="624" y="1590">adib.</text></g>
<g id="n2-ingurunearen"><rect class="n g" x="504" y="1593" width="96" height="40" rx="7"/><text><tspan x="552" y="1606">ingurunearen</tspan><tspan x="552" y="1620">eragina</tspan></text></g>
<g id="n2-agintarien"><rect class="n g" x="652" y="1592" width="76" height="40" rx="7"/><text><tspan x="690" y="1605">agintarien</tspan><tspan x="690" y="1619">agindua</tspan></text></g>
<g id="n2-propaganda"><rect class="n g" x="578" y="1634" width="86" height="27" rx="7"/><text x="621" y="1647">propaganda</text></g>
<g id="n2-bereiztea"><rect class="n o" x="324" y="1436" width="70" height="26" rx="7"/><text x="359" y="1449">bereiztea</text></g>
<g id="l2-zeretik"><rect class="g" x="78" y="1475" width="43" height="15"/><text x="99" y="1482">zeretik</text></g>
<g id="n2-sinesmenak"><rect class="n g" x="20" y="1516" width="85" height="24" rx="7"/><text x="62" y="1528">sinesmenak</text></g>
<g id="n2-jarrerak"><rect class="n g" x="114" y="1517" width="64" height="26" rx="7"/><text x="146" y="1530">jarrerak</text></g>
<g id="n2-jarduera"><rect class="n g" x="71" y="1548" width="70" height="54" rx="7"/><text><tspan x="106" y="1561">jarduera</tspan><tspan x="106" y="1576">batzuk</tspan><tspan x="106" y="1590">hobestea</tspan></text></g>
<g id="l2-zer"><rect class="w" x="278" y="1480" width="20" height="14"/><text x="288" y="1487">zer</text></g>
<g id="n2-balioak"><rect class="n o" x="205" y="1509" width="58" height="25" rx="7"/><text x="234" y="1522">balioak</text></g>
<g id="l2-erabiliz"><rect class="w" x="364" y="1538" width="48" height="14"/><text x="388" y="1545">erabiliz</text></g>
<g id="n2-raths"><rect class="n w" x="73" y="1621" width="120" height="25" rx="7"/><text x="133" y="1633">Raths et al. 1982</text></g>
<g id="l2-ezaug"><rect class="shy" x="169" y="1655" width="72" height="16"/><rect class="w" x="165" y="1652" width="72" height="16"/><text x="201" y="1660">ezaugarriak</text></g>
<g id="n2-libreki"><rect class="shy" x="48" y="1700" width="74" height="38" rx="7"/><rect class="n y" x="44" y="1696" width="74" height="38" rx="7"/><text><tspan x="81" y="1708">libreki</tspan><tspan x="81" y="1723">hautatzea</tspan></text></g>
<g id="n2-aukera"><rect class="shy" x="147" y="1692" width="86" height="69" rx="7"/><rect class="n y" x="143" y="1688" width="86" height="69" rx="7"/><text><tspan x="186" y="1700">aukera</tspan><tspan x="186" y="1715">ezberdinen</tspan><tspan x="186" y="1729">artean</tspan><tspan x="186" y="1744">hautatzea</tspan></text></g>
<g id="n2-gogoeta"><rect class="shy" x="267" y="1728" width="79" height="38" rx="7"/><rect class="n y" x="263" y="1724" width="79" height="38" rx="7"/><text><tspan x="302" y="1736">gogoeta</tspan><tspan x="302" y="1750">arretatsua</tspan></text></g>
<g id="l2-etaondoren"><rect class="w" x="185" y="1776" width="48" height="44"/><text><tspan x="209" y="1783">eta</tspan><tspan x="209" y="1798">ondoren</tspan><tspan x="209" y="1813">izatea</tspan></text></g>
<g id="n2-apreziatua"><rect class="shy" x="77" y="1807" width="77" height="26" rx="7"/><rect class="n y" x="73" y="1803" width="77" height="26" rx="7"/><text x="111" y="1816">apreziatua</text></g>
<g id="n2-disfrutatua"><rect class="shy" x="94" y="1839" width="79" height="26" rx="7"/><rect class="n y" x="90" y="1835" width="79" height="26" rx="7"/><text x="129" y="1848">disfrutatua</text></g>
<g id="n2-publikoki2"><rect class="shy" x="124" y="1869" width="98" height="39" rx="7"/><rect class="n y" x="120" y="1865" width="98" height="39" rx="7"/><text><tspan x="169" y="1877">publikoki</tspan><tspan x="169" y="1892">errekonozitua</tspan></text></g>
<g id="n2-jokabidean"><rect class="shy" x="227" y="1866" width="92" height="42" rx="7"/><rect class="n y" x="223" y="1862" width="92" height="42" rx="7"/><text><tspan x="269" y="1875">jokabidean</tspan><tspan x="269" y="1890">inkorporatua</tspan></text></g>
<g id="n2-bizitzan"><rect class="shy" x="267" y="1805" width="108" height="56" rx="7"/><rect class="n y" x="263" y="1801" width="108" height="56" rx="7"/><text><tspan x="317" y="1814">bizitzan zehar</tspan><tspan x="317" y="1829">zenbait alditan</tspan><tspan x="317" y="1843">gauzatzea</tspan></text></g>
<g id="n2-galderak"><rect class="n y" x="412" y="1669" width="68" height="27" rx="7"/><text x="446" y="1682">galderak</text></g>
<g id="l2-hauen"><rect class="w" x="510" y="1716" width="55" height="30"/><text><tspan x="537" y="1724">hauen</tspan><tspan x="537" y="1739">modukoak</tspan></text></g>
<g id="n2-marin"><rect class="n w" x="664" y="1707" width="128" height="55" rx="7"/><text><tspan x="728" y="1719">Marin, 1993b,</tspan><tspan x="728" y="1735">Raths et al. 1982,</tspan><tspan x="728" y="1749">Hersh et al.1988</tspan></text></g>
<g id="q1"><rect class="n g" x="464" y="1788" width="176" height="25" rx="7"/><text x="552" y="1801">Behar duzun zerbait al da?</text></g>
<g id="q2"><rect class="n g" x="427" y="1822" width="213" height="24" rx="7"/><text x="533" y="1834">Horretaz harro sentitzen al zara?</text></g>
<g id="q3"><rect class="n g" x="416" y="1851" width="224" height="26" rx="7"/><text x="528" y="1864">Zuretzako oso garrantzitsua al da?</text></g>
<g id="q4"><rect class="n g" x="416" y="1883" width="224" height="27" rx="7"/><text x="528" y="1896">Ideia hori asko gustatzen al zaizu?</text></g>
<g id="q5"><rect class="n g" x="397" y="1921" width="243" height="24" rx="7"/><text x="518" y="1933">Pozik sentitzen al zara ideai horrekin?</text></g>
<g id="q6"><rect class="n g" x="381" y="1954" width="259" height="26" rx="7"/><text x="510" y="1967">Nola sentitu zinen gertatu zitzaizunean?</text></g>
<g id="q7"><rect class="n g" x="400" y="1989" width="240" height="26" rx="7"/><text x="520" y="2002">Beste aukeretan pentsatu al zenuen?</text></g>
<g id="q8"><rect class="n g" x="345" y="2023" width="293" height="24" rx="7"/><text x="491" y="2035">Zeuk hautatu eta erabaki duzun zerbait al da?</text></g>
<g id="q9"><rect class="n g" x="662" y="1788" width="267" height="27" rx="7"/><text x="795" y="1801">Denbora luzean pentsatu al duzu horrela?</text></g>
<g id="q10"><rect class="n g" x="662" y="1824" width="277" height="27" rx="7"/><text x="800" y="1837">Nola eragiten dio zure eguneroko bizitzan?</text></g>
<g id="q11"><rect class="n g" x="662" y="1859" width="252" height="25" rx="7"/><text x="788" y="1871">Nola aritzen zara ideia horren arabera?</text></g>
<g id="q12"><rect class="n g" x="662" y="1890" width="437" height="26" rx="7"/><text x="880" y="1903">Pentsatu al duzu aukera horren arabera bizitzearen garrantziari buruz</text></g>
<g id="q13"><rect class="n g" x="662" y="1924" width="495" height="27" rx="7"/><text x="909" y="1937">Uste al duzu zure hobespen pertsonal barneratua dela, ala ohitura besterik ez?</text></g>
<g id="q14"><rect class="n g" x="662" y="1957" width="303" height="26" rx="7"/><text x="813" y="1970">Zer zailtasun topatzen duzu praktikan jartzeko?</text></g>
<g id="q15"><rect class="n g" x="662" y="1993" width="335" height="25" rx="7"/><text x="829" y="2005">Gauza bera egingo al zenuke beste inguruabarretan?</text></g>
<g id="q16"><rect class="n g" x="662" y="2026" width="233" height="24" rx="7"/><text x="778" y="2038">Benetako balioa ematen diozu honi?</text></g>

<g id="n3-title"><rect class="n p" x="1512" y="1175" width="329" height="30" rx="8"/><text class="t" x="1676" y="1190">arrazonamendu morala gararaztea</text></g>
<g id="l3-oinarria"><rect class="o" x="1543" y="1250" width="48" height="12"/><text x="1567" y="1256">oinarria</text></g>
<g id="n3-piaget"><rect class="n y" x="1419" y="1256" width="106" height="40" rx="7"/><text><tspan x="1472" y="1268">Piaget, 1932</tspan><tspan x="1472" y="1283">kohlberg, 1969</tspan></text></g>
<g id="n3-sei"><rect class="n o" x="1445" y="1307" width="76" height="81" rx="7"/><text><tspan x="1483" y="1318">sei</tspan><tspan x="1483" y="1332">estadio</tspan><tspan x="1483" y="1347">moralen</tspan><tspan x="1483" y="1362">unibertsa-</tspan><tspan x="1483" y="1377">ltasuna</tspan></text></g>
<g id="n3-printz"><rect class="n o" x="1533" y="1307" width="81" height="67" rx="7"/><text><tspan x="1573" y="1320">printzipio</tspan><tspan x="1573" y="1334">uniber-</tspan><tspan x="1573" y="1348">tsalen</tspan><tspan x="1573" y="1363">existentzia</tspan></text></g>
<g id="l3-hauenf"><rect class="w" x="1543" y="1395" width="58" height="28"/><text><tspan x="1572" y="1402">hauen</tspan><tspan x="1572" y="1416">funtzioa</tspan></text></g>
<g id="n3-erabaki"><rect class="n y" x="1464" y="1442" width="90" height="57" rx="7"/><text><tspan x="1509" y="1455">erabaki</tspan><tspan x="1509" y="1470">moralaerako</tspan><tspan x="1509" y="1485">gida</tspan></text></g>
<g id="n3-ez"><rect class="n y" x="1557" y="1440" width="81" height="57" rx="7"/><text><tspan x="1597" y="1455" font-weight="bold">EZ:</tspan><tspan x="1597" y="1470">preskripzio</tspan><tspan x="1597" y="1485">zehatzak</tspan></text></g>
<g id="l3-helbor"><rect class="o" x="1669" y="1262" width="53" height="28"/><text><tspan x="1695" y="1269">helburu</tspan><tspan x="1695" y="1283">orokorra</tspan></text></g>
<g id="n3-ikasleengar"><rect class="n o" x="1640" y="1307" width="118" height="57" rx="7"/><text><tspan x="1699" y="1320">ikasleen garapen</tspan><tspan x="1699" y="1334">morala etapaz</tspan><tspan x="1699" y="1349">etapa bultzatzea</tspan></text></g>
<g id="l3-sortuz"><rect class="o" x="1680" y="1378" width="41" height="13"/><text x="1700" y="1385">sortuz</text></g>
<g id="n3-gatsozio"><rect class="n o" x="1659" y="1408" width="86" height="56" rx="7"/><text><tspan x="1702" y="1420">gatazka</tspan><tspan x="1702" y="1435">sozio-</tspan><tspan x="1702" y="1450">kognitiboak</tspan></text></g>
<g id="l3-ikaslea"><rect class="o" x="1675" y="1491" width="61" height="40"/><text><tspan x="1705" y="1496">ikaslea</tspan><tspan x="1705" y="1511">bultzatuz</tspan><tspan x="1705" y="1525">aurkitzera</tspan></text></g>
<g id="n3-oreka"><rect class="n o" x="1680" y="1546" width="51" height="39" rx="7"/><text><tspan x="1706" y="1558">oreka</tspan><tspan x="1706" y="1573">berria</tspan></text></g>
<g id="l3-non"><rect class="w" x="1690" y="1598" width="32" height="14"/><text x="1706" y="1605">non:</text></g>
<g id="n3-arrmaila"><rect class="n o" x="1660" y="1623" width="97" height="69" rx="7"/><text><tspan x="1708" y="1635">arrazoiketa</tspan><tspan x="1708" y="1650">moralaren</tspan><tspan x="1708" y="1665">maila altuago</tspan><tspan x="1708" y="1679">bat</tspan></text></g>
<g id="l3-daramana"><rect class="o" x="1679" y="1709" width="66" height="29"/><text><tspan x="1712" y="1715">daramana</tspan><tspan x="1712" y="1730">zertara:</tspan></text></g>
<g id="n3-jarrera"><rect class="sho" x="1585" y="1754" width="114" height="42" rx="7"/><rect class="n o" x="1581" y="1750" width="114" height="42" rx="7"/><text><tspan x="1638" y="1762">jarrera</tspan><tspan x="1638" y="1777">autonomoagoak</tspan></text></g>
<g id="n3-printz2"><rect class="sho" x="1710" y="1754" width="111" height="42" rx="7"/><rect class="n o" x="1706" y="1750" width="111" height="42" rx="7"/><text><tspan x="1761" y="1762">printzipio</tspan><tspan x="1761" y="1777">unibertsalagoak</tspan></text></g>
<g id="l3-oinarrituz"><rect class="sho" x="1682" y="1811" width="61" height="28"/><rect class="o" x="1678" y="1807" width="61" height="28"/><text><tspan x="1708" y="1814">oinarrituz</tspan><tspan x="1708" y="1828">zertan</tspan></text></g>
<g id="l3-tecnica"><rect class="y" x="1779" y="1694" width="94" height="13"/><text x="1826" y="1700">técnica nagusia</text></g>
<g id="n3-dilema"><rect class="n y" x="1838" y="1746" width="65" height="38" rx="7"/><text><tspan x="1870" y="1759">dilema</tspan><tspan x="1870" y="1773">moralak</tspan></text></g>
<g id="l3-zer1"><rect class="y" x="1863" y="1789" width="20" height="12"/><text x="1873" y="1795">zer</text></g>
<g id="n3-eztab"><rect class="n y" x="1822" y="1810" width="98" height="24" rx="7"/><text x="1871" y="1822">eztabaidatzea</text></g>
<g id="l3-erabiliz"><rect class="y" x="1849" y="1841" width="45" height="13"/><text x="1871" y="1847">erabiliz</text></g>
<g id="n3-istorioak"><rect class="n y" x="1841" y="1867" width="67" height="25" rx="7"/><text x="1874" y="1880">istorioak</text></g>
<g id="l3-non2"><rect class="w" x="1864" y="1914" width="26" height="14"/><text x="1877" y="1921">non</text></g>
<g id="n3-ikasleek"><rect class="n y" x="1843" y="1941" width="65" height="23" rx="7"/><text x="1875" y="1953">ikasleek</text></g>
<g id="l3-eginbehar"><rect class="w" x="1844" y="1983" width="64" height="28"/><text><tspan x="1876" y="1990">egin</tspan><tspan x="1876" y="2004">behar dute</tspan></text></g>
<g id="n3-arrazoitu"><rect class="n y" x="1805" y="2025" width="68" height="25" rx="7"/><text x="1839" y="2038">arrazoitu</text></g>
<g id="n3-jarrerahartu"><rect class="n y" x="1897" y="2018" width="56" height="38" rx="7"/><text><tspan x="1925" y="2030">jarrera</tspan><tspan x="1925" y="2044">hartu</tspan></text></g>
<g id="n3-besteekin"><rect class="n y" x="1841" y="2058" width="86" height="38" rx="7"/><text><tspan x="1884" y="2070">besteekin</tspan><tspan x="1884" y="2084">eztabaidatu</tspan></text></g>
<g id="l3-izandaitezke"><rect class="g" x="1978" y="1896" width="51" height="28"/><text><tspan x="2003" y="1903">izan</tspan><tspan x="2003" y="1917">daitezke</tspan></text></g>
<g id="n3-fiktizioak"><rect class="n g" x="1935" y="1937" width="68" height="24" rx="7"/><text x="1969" y="1949">fiktizioak</text></g>
<g id="n3-errealak"><rect class="n g" x="2020" y="1935" width="63" height="25" rx="7"/><text x="2051" y="1947">errealak</text></g>
<g id="l3-dira"><rect class="g" x="2032" y="1966" width="24" height="13"/><text x="2044" y="1972">dira</text></g>
<g id="n3-eraginko"><rect class="n g" x="2003" y="1990" width="72" height="41" rx="7"/><text><tspan x="2039" y="2002">eraginko-</tspan><tspan x="2039" y="2017">rragoak</tspan></text></g>
<g id="l3-gaiak"><rect class="shy" x="2105" y="1942" width="33" height="15"/><rect class="w" x="2102" y="1939" width="33" height="15"/><text x="2118" y="1947">gaiak</text></g>
<g id="n3-komunika"><rect class="sh" x="2166" y="1914" width="159" height="42" rx="7"/><rect class="n w" x="2162" y="1910" width="159" height="42" rx="7"/><text><tspan x="2241" y="1923">komunikabideetakoak</tspan><tspan x="2241" y="1937">testuinguru sozialekoak</tspan></text></g>
<g id="n3-eskegun"><rect class="sh" x="2165" y="1969" width="151" height="26" rx="7"/><rect class="n w" x="2161" y="1965" width="151" height="26" rx="7"/><text x="2236" y="1978">eskolako egunerokoak</text></g>
<g id="l3-adib1"><rect class="shy" x="2343" y="1924" width="28" height="15"/><rect class="w" x="2340" y="1921" width="28" height="15"/><text x="2354" y="1928">adib</text></g>
<g id="n3-gorputza"><rect class="sh" x="2435" y="1810" width="120" height="27" rx="7"/><rect class="n w" x="2431" y="1806" width="120" height="27" rx="7"/><text x="2491" y="1819">gorputza gurtzea</text></g>
<g id="n3-doping"><rect class="sh" x="2434" y="1844" width="120" height="26" rx="7"/><rect class="n w" x="2430" y="1840" width="120" height="26" rx="7"/><text x="2490" y="1853">doping-a kirolean</text></g>
<g id="n3-dibert"><rect class="sh" x="2435" y="1876" width="191" height="26" rx="7"/><rect class="n w" x="2431" y="1872" width="191" height="26" rx="7"/><text x="2526" y="1885">dibertsitateari arreta ematea</text></g>
<g id="n3-gerra"><rect class="sh" x="2439" y="1908" width="88" height="26" rx="7"/><rect class="n w" x="2435" y="1904" width="88" height="26" rx="7"/><text x="2479" y="1917">gerra-bakea</text></g>
<g id="l3-adib2"><rect class="y" x="2574" y="1914" width="26" height="14"/><text x="2587" y="1921">adib</text></g>
<g id="n3-beharber"><rect class="sh" x="2627" y="1917" width="104" height="26" rx="7"/><rect class="n w" x="2623" y="1913" width="104" height="26" rx="7"/><text x="2675" y="1926">behar bereziak</text></g>
<g id="n3-inmig"><rect class="sh" x="2627" y="1948" width="84" height="26" rx="7"/><rect class="n w" x="2623" y="1944" width="84" height="26" rx="7"/><text x="2665" y="1957">inmigrazioa</text></g>
<g id="l3-islatzen"><rect class="shy" x="2352" y="1976" width="80" height="15"/><rect class="w" x="2349" y="1973" width="80" height="15"/><text x="2389" y="1980">islatzen dute</text></g>
<g id="n3-eskjok"><rect class="sh" x="2380" y="2005" width="370" height="27" rx="7"/><rect class="n w" x="2376" y="2001" width="370" height="27" rx="7"/><text x="2561" y="2014">eskolako jokabide eta zereginen gehiegizko lehiakortasuna</text></g>
<g id="l3-adib3"><rect class="shy" x="2340" y="2026" width="28" height="15"/><rect class="w" x="2337" y="2023" width="28" height="15"/><text x="2351" y="2030">adib</text></g>
<g id="n3-eskdiz"><rect class="sh" x="2088" y="2040" width="240" height="28" rx="7"/><rect class="n w" x="2084" y="2036" width="240" height="28" rx="7"/><text x="2204" y="2050">eskolako diziplinari buruzko gatazkak</text></g>
<g id="n3-taldean"><rect class="sh" x="2091" y="2072" width="235" height="27" rx="7"/><rect class="n w" x="2087" y="2068" width="235" height="27" rx="7"/><text x="2204" y="2081">taldean pertsona ezberdinak egotea</text></g>
<g id="n3-ikgait"><rect class="sh" x="2371" y="2045" width="296" height="25" rx="7"/><rect class="n w" x="2367" y="2041" width="296" height="25" rx="7"/><text x="2515" y="2054">ikasleen gaitasun motorraren ezberdintasunak</text></g>
<g id="n3-sexu"><rect class="sh" x="2373" y="2074" width="302" height="26" rx="7"/><rect class="n w" x="2369" y="2070" width="302" height="26" rx="7"/><text x="2520" y="2083">sexu estereotipoak eta genero ezberdintasunak</text></g>
<g id="l3-helbzeh"><rect class="o" x="2021" y="1260" width="56" height="30"/><text><tspan x="2049" y="1268">helburu</tspan><tspan x="2049" y="1283">zehatzak</tspan></text></g>
<g id="n3-cantillo"><rect class="n w" x="2120" y="1208" width="135" height="27" rx="7"/><text x="2187" y="1221">Cantillo et al., 1995</text></g>
<g id="n3-bultz"><rect class="n o" x="1851" y="1307" width="77" height="55" rx="7"/><text><tspan x="1889" y="1320">bultzatzea</tspan><tspan x="1889" y="1334">eta</tspan><tspan x="1889" y="1349">erreztea</tspan></text></g>
<g id="l3-zer2"><rect class="o" x="1879" y="1368" width="20" height="12"/><text x="1889" y="1374">zer</text></g>
<g id="n3-garapen"><rect class="n o" x="1839" y="1399" width="100" height="52" rx="7"/><text><tspan x="1889" y="1411">garapen</tspan><tspan x="1889" y="1425">eta hazkuntza</tspan><tspan x="1889" y="1439">moralak</tspan></text></g>
<g id="l3-zein"><rect class="o" x="1854" y="1488" width="70" height="28"/><text><tspan x="1889" y="1495">zein</tspan><tspan x="1889" y="1509">ikuspegitan</tspan></text></g>
<g id="n3-kogn"><rect class="n o" x="1797" y="1547" width="85" height="27" rx="7"/><text x="1839" y="1560">kognitiboak</text></g>
<g id="n3-jarrz"><rect class="n o" x="1896" y="1549" width="92" height="27" rx="7"/><text x="1942" y="1562">jarrerazkoak</text></g>
<g id="n3-jokz"><rect class="n o" x="1838" y="1583" width="102" height="54" rx="7"/><text><tspan x="1889" y="1596">jokabidezkoak</tspan><tspan x="1889" y="1611">(ekintzan)</tspan><tspan x="1889" y="1625">ahal bada</tspan></text></g>
<g id="n3-potentz"><rect class="n o" x="2007" y="1307" width="96" height="26" rx="7"/><text x="2055" y="1320">potentziatzea</text></g>
<g id="l3-zer3"><rect class="o" x="2044" y="1367" width="21" height="12"/><text x="2054" y="1373">zer</text></g>
<g id="n3-arregit"><rect class="n o" x="2008" y="1395" width="91" height="85" rx="7"/><text><tspan x="2054" y="1408">arrazoiketa</tspan><tspan x="2054" y="1423">moralerako</tspan><tspan x="2054" y="1437">egitura</tspan><tspan x="2054" y="1452">unibertsalen</tspan><tspan x="2054" y="1466">garapena</tspan></text></g>
<g id="l3-ahalbid"><rect class="o" x="2013" y="1495" width="82" height="42"/><text><tspan x="2054" y="1501">ahalbidetzen</tspan><tspan x="2054" y="1516">dutelako</tspan><tspan x="2054" y="1530">bereganatzea</tspan></text></g>
<g id="n3-balprintz"><rect class="n o" x="2014" y="1551" width="79" height="55" rx="7"/><text><tspan x="2054" y="1564">balioaren</tspan><tspan x="2054" y="1579">printziopio</tspan><tspan x="2054" y="1593">orokorrak</tspan></text></g>
<g id="n3-lagun"><rect class="n o" x="2146" y="1307" width="75" height="26" rx="7"/><text x="2184" y="1320">laguntzea</text></g>
<g id="l3-hartzen"><rect class="o" x="2161" y="1368" width="46" height="12"/><text x="2184" y="1374">hartzen</text></g>
<g id="n3-arazo"><rect class="n o" x="2140" y="1394" width="88" height="55" rx="7"/><text><tspan x="2184" y="1407">arazo etiko</tspan><tspan x="2184" y="1421">nagusien</tspan><tspan x="2184" y="1436">kontzientzia</tspan></text></g>
<g id="l3-nongoak"><rect class="w" x="2161" y="1493" width="52" height="14"/><text x="2187" y="1500">nongoak</text></g>
<g id="n3-gaurko"><rect class="n y" x="2112" y="1526" width="71" height="42" rx="7"/><text><tspan x="2147" y="1538">gaurko</tspan><tspan x="2147" y="1553">gizartzea</tspan></text></g>
<g id="n3-kirolpr"><rect class="n y" x="2190" y="1528" width="72" height="42" rx="7"/><text><tspan x="2226" y="1541">kirol</tspan><tspan x="2226" y="1555">praktikan</tspan></text></g>
<g id="n3-sortzea"><rect class="n o" x="2319" y="1307" width="61" height="24" rx="7"/><text x="2350" y="1319">sortzea</text></g>
<g id="l3-zer4"><rect class="o" x="2340" y="1369" width="20" height="12"/><text x="2350" y="1375">zer</text></g>
<g id="n3-gatkogn"><rect class="n o" x="2306" y="1394" width="86" height="43" rx="7"/><text><tspan x="2349" y="1408">gatazka</tspan><tspan x="2349" y="1423">kognitiboak</tspan></text></g>
<g id="l3-garatzeko"><rect class="w" x="2318" y="1441" width="64" height="14"/><text x="2350" y="1448">garatzeko</text></g>
<g id="n3-koher"><rect class="n o" x="2306" y="1463" width="86" height="39" rx="7"/><text><tspan x="2349" y="1476">arrazoiketa</tspan><tspan x="2349" y="1490">koherentea</tspan></text></g>
<g id="l3-etaondorioz"><text><tspan x="2352" y="1523">eta</tspan><tspan x="2352" y="1538">ondorioz</tspan><tspan x="2352" y="1553">errazteko</tspan></text></g>
<g id="n3-jarhartzea"><rect class="n o" x="2265" y="1571" width="60" height="38" rx="7"/><text><tspan x="2295" y="1583">jarrera</tspan><tspan x="2295" y="1597">hartzea</tspan></text></g>
<g id="n3-arazoen"><rect class="n o" x="2350" y="1574" width="73" height="35" rx="7"/><text><tspan x="2386" y="1584">arazoen</tspan><tspan x="2386" y="1598">ulermena</tspan></text></g>
<g id="l3-erabiliz2"><rect class="w" x="2323" y="1628" width="46" height="14"/><text x="2346" y="1635">erabiliz</text></g>
<g id="n3-barne"><rect class="n y" x="2260" y="1655" width="87" height="39" rx="7"/><text><tspan x="2303" y="1667">barne</tspan><tspan x="2303" y="1682">elkarrizketa</tspan></text></g>
<g id="n3-elkbest"><rect class="n y" x="2355" y="1656" width="87" height="38" rx="7"/><text><tspan x="2398" y="1668">elkarrizketa</tspan><tspan x="2398" y="1683">besteekin</tspan></text></g>
<g id="n3-ahalbidetzea"><rect class="n o" x="2473" y="1307" width="93" height="24" rx="7"/><text x="2519" y="1319">ahalbidetzea</text></g>
<g id="l3-zer5"><rect class="o" x="2510" y="1363" width="20" height="12"/><text x="2520" y="1369">zer</text></g>
<g id="n3-errespetu"><rect class="n o" x="2468" y="1383" width="103" height="58" rx="7"/><text><tspan x="2519" y="1398">errespetu</tspan><tspan x="2519" y="1412">eta tolerantzia</tspan><tspan x="2519" y="1427">jarrerak</tspan></text></g>
<g id="l3-suspertuz"><rect class="w" x="2476" y="1454" width="88" height="29"/><text><tspan x="2520" y="1461">suspertuz</tspan><tspan x="2520" y="1476">bere ahalmena</tspan></text></g>
<g id="n3-ikuspuntu"><rect class="n o" x="2444" y="1503" width="76" height="54" rx="7"/><text><tspan x="2482" y="1516">ikuspuntu</tspan><tspan x="2482" y="1531">berriak</tspan><tspan x="2482" y="1545">hartzeko</tspan></text></g>
<g id="n3-rol"><rect class="n o" x="2525" y="1502" width="85" height="55" rx="7"/><text><tspan x="2567" y="1515">rol</tspan><tspan x="2567" y="1530">ezberdinak</tspan><tspan x="2567" y="1544">gauzatzeko</tspan></text></g>
<g id="l3-non3"><rect class="w" x="2494" y="1612" width="26" height="14"/><text x="2507" y="1619">non</text></g>
<g id="n3-kirolego"><rect class="n y" x="2468" y="1640" width="80" height="54" rx="7"/><text><tspan x="2508" y="1652">kirol</tspan><tspan x="2508" y="1667">egoera</tspan><tspan x="2508" y="1682">bakoitzean</tspan></text></g>
<g id="l3-eraik"><rect class="g" x="1942" y="1745" width="70" height="28"/><text><tspan x="1977" y="1752">eraikitzeko</tspan><tspan x="1977" y="1767">urratsak</tspan></text></g>
<g id="n3-s1"><rect class="n g" x="2042" y="1665" width="79" height="54" rx="7"/><text><tspan x="2081" y="1677">1- egoera</tspan><tspan x="2081" y="1692">batean</tspan><tspan x="2081" y="1707">zentratzea</tspan></text></g>
<g id="l3-eta1"><rect class="g" x="2124" y="1683" width="21" height="14"/><text x="2134" y="1690">eta</text></g>
<g id="n3-pers"><rect class="n g" x="2148" y="1674" width="88" height="38" rx="7"/><text><tspan x="2192" y="1686">pertsonaiak</tspan><tspan x="2192" y="1700">definitzea</tspan></text></g>
<g id="n3-s2"><rect class="n g" x="2040" y="1725" width="87" height="56" rx="7"/><text><tspan x="2083" y="1738">2- gatazka</tspan><tspan x="2083" y="1752" text-decoration="underline">moralak</tspan><tspan x="2083" y="1767">planteatzea</tspan></text></g>
<g id="n3-s3"><rect class="n g" x="2037" y="1788" width="105" height="43" rx="7"/><text><tspan x="2089" y="1802">3- alternatibak</tspan><tspan x="2089" y="1816">planteatzea</tspan></text></g>
<g id="n3-s4"><rect class="n g" x="2033" y="1836" width="145" height="57" rx="7"/><text><tspan x="2105" y="1850">4- gaiarekin</tspan><tspan x="2105" y="1864">lotutako beste</tspan><tspan x="2105" y="1879">galderak formulatzea</tspan></text></g>
<g id="l3-galdetuz"><rect class="g" x="2159" y="1807" width="51" height="14"/><text x="2184" y="1814">galdetuz</text></g>
<g id="n3-zeregin"><rect class="n g" x="2227" y="1733" width="99" height="56" rx="7"/><text><tspan x="2276" y="1746">zer egin</tspan><tspan x="2276" y="1760">beharko  luke</tspan><tspan x="2276" y="1775">protagonistak</tspan></text></g>
<g id="l3-eta2"><rect class="g" x="2265" y="1808" width="20" height="14"/><text x="2275" y="1815">eta</text></g>
<g id="n3-zergatik"><rect class="n g" x="2249" y="1849" width="65" height="26" rx="7"/><text x="2281" y="1862">zergatik</text></g>
</svg>
